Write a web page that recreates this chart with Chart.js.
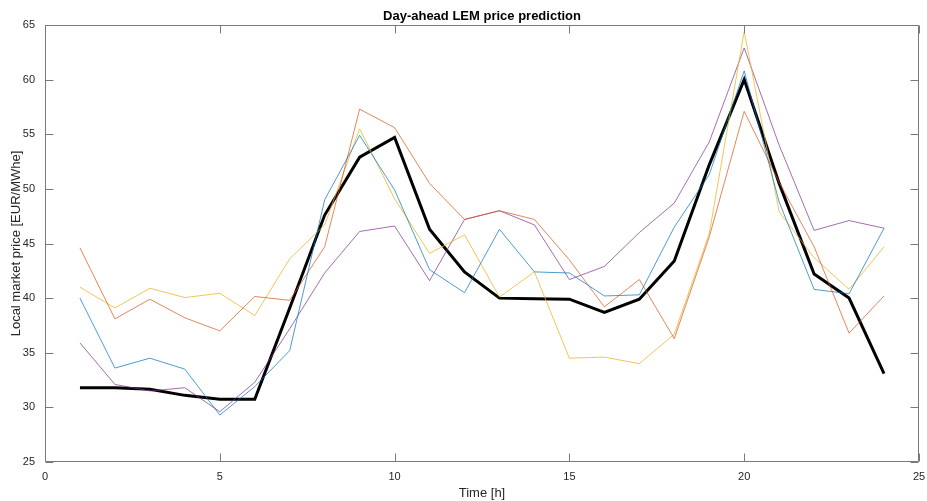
<!DOCTYPE html>
<html>
<head>
<meta charset="utf-8">
<script src="https://cdn.jsdelivr.net/npm/chart.js@4/dist/chart.umd.min.js"></script>
<style>
  html, body { margin: 0; padding: 0; background: #ffffff; }
  #wrap { width: 927px; height: 501px; }
</style>
</head>
<body>
<div id="wrap"><canvas id="c" width="927" height="501"></canvas></div>
<script>
// Hours of the day-ahead horizon
const hours = [1,2,3,4,5,6,7,8,9,10,11,12,13,14,15,16,17,18,19,20,21,22,23,24];

// Individual price scenarios [EUR/MWhe]
const scenarioBlue   = [40.0, 33.6, 34.5, 33.5, 29.3, 31.9, 35.2, 49.0, 54.9, 49.9, 42.6, 40.5, 46.3, 42.4, 42.3, 40.2, 40.3, 46.5, 51.3, 60.8, 48.8, 40.8, 40.4, 46.4];
const scenarioOrange = [44.6, 38.1, 39.9, 38.2, 37.0, 40.15, 39.8, 44.7, 57.3, 55.6, 50.5, 47.2, 48.0, 47.2, 43.5, 39.2, 41.7, 36.3, 45.6, 57.1, 50.6, 44.7, 36.8, 40.2];
const scenarioYellow = [41.0, 39.1, 40.9, 40.05, 40.45, 38.4, 43.6, 46.7, 55.5, 49.1, 44.1, 45.8, 40.1, 42.4, 34.5, 34.6, 34.0, 36.7, 45.9, 64.4, 47.9, 43.7, 40.8, 44.7];
const scenarioPurple = [35.9, 32.1, 31.5, 31.8, 29.6, 32.3, 37.2, 42.3, 46.1, 46.6, 41.6, 47.2, 48.0, 46.7, 41.7, 42.9, 46.0, 48.7, 54.3, 62.9, 54.0, 46.2, 47.1, 46.4];

// Resulting prediction
const prediction     = [31.8, 31.8, 31.65, 31.1, 30.75, 30.75, 39.1, 47.6, 52.9, 54.7, 46.3, 42.4, 40.0, 39.95, 39.9, 38.7, 39.9, 43.4, 52.2, 60.0, 50.5, 42.2, 40.0, 33.1];

// Axis ticks
const xTicks = [0, 5, 10, 15, 20, 25];
const yTicks = [25, 30, 35, 40, 45, 50, 55, 60, 65];

const chartTitle = 'Day-ahead LEM price prediction';

const toPoints = arr => arr.map((v, i) => ({ x: hours[i], y: v }));

const AXIS_COLOR = '#7a7a7a';
const TEXT_COLOR = '#262626';
const FONT = '"Liberation Sans", Arial, Helvetica, sans-serif';

// Draws the surrounding box, inward-pointing ticks on all four sides,
// and the title centred over the plot area
const boxAxes = {
  id: 'boxAxes',
  afterDatasetsDraw(chart) {
    const { ctx, chartArea: a, scales } = chart;
    const L = Math.round(a.left) + 0.5, R = Math.round(a.right) - 0.5;
    const T = Math.round(a.top) + 0.5, B = Math.round(a.bottom) - 0.5;
    const len = 8;
    ctx.save();
    ctx.strokeStyle = AXIS_COLOR;
    ctx.lineWidth = 1;
    ctx.beginPath();
    ctx.rect(L, T, R - L, B - T);
    xTicks.forEach(t => {
      const px = Math.round(scales.x.getPixelForValue(t)) + 0.5;
      ctx.moveTo(px, B); ctx.lineTo(px, B - len);
      ctx.moveTo(px, T); ctx.lineTo(px, T + len);
    });
    yTicks.forEach(t => {
      const py = Math.round(scales.y.getPixelForValue(t)) + 0.5;
      ctx.moveTo(L, py); ctx.lineTo(L + len, py);
      ctx.moveTo(R, py); ctx.lineTo(R - len, py);
    });
    ctx.stroke();

    ctx.fillStyle = '#000000';
    ctx.font = 'bold 13px ' + FONT;
    ctx.textAlign = 'center';
    ctx.textBaseline = 'middle';
    ctx.fillText(chartTitle, (a.left + a.right) / 2, 16);
    ctx.restore();
  }
};

const thin = (label, color, data) => ({
  label, data: toPoints(data),
  borderColor: color, backgroundColor: color,
  borderWidth: 1, pointRadius: 0, tension: 0, fill: false
});

new Chart(document.getElementById('c'), {
  type: 'line',
  data: {
    datasets: [
      thin('Scenario 1', 'rgba(0,114,189,0.7)', scenarioBlue),
      thin('Scenario 2', 'rgba(217,83,25,0.7)', scenarioOrange),
      thin('Scenario 3', 'rgba(237,177,32,0.75)', scenarioYellow),
      thin('Scenario 4', 'rgba(126,47,142,0.7)', scenarioPurple),
      {
        label: 'Prediction', data: toPoints(prediction),
        borderColor: '#000000', backgroundColor: '#000000',
        borderWidth: 3, pointRadius: 0, tension: 0, fill: false,
        borderJoinStyle: 'miter'
      }
    ]
  },
  options: {
    responsive: false,
    animation: false,
    events: [],
    layout: { padding: { left: 0, right: 8, top: 25, bottom: 0 } },
    plugins: {
      legend: { display: false },
      tooltip: { enabled: false },
      title: { display: false }
    },
    scales: {
      x: {
        type: 'linear', min: 0, max: 25,
        afterBuildTicks: s => { s.ticks = xTicks.map(v => ({ value: v })); },
        afterFit: s => { s.height = 39; s.paddingLeft = 0; s.paddingRight = 0; },
        grid: { display: false, drawTicks: false },
        border: { display: false },
        ticks: { color: TEXT_COLOR, font: { family: FONT, size: 11 }, padding: 8, maxRotation: 0 },
        title: {
          display: true, text: 'Time [h]', color: TEXT_COLOR,
          font: { family: FONT, size: 13 }, padding: { top: 0, bottom: 0 }
        }
      },
      y: {
        type: 'linear', min: 25, max: 65,
        afterBuildTicks: s => { s.ticks = yTicks.map(v => ({ value: v })); },
        afterFit: s => { s.width = 45; s.paddingTop = 0; s.paddingBottom = 0; },
        grid: { display: false, drawTicks: false },
        border: { display: false },
        ticks: { color: TEXT_COLOR, font: { family: FONT, size: 11 }, padding: 10 },
        title: {
          display: true, text: 'Local market price [EUR/MWhe]', color: TEXT_COLOR,
          font: { family: FONT, size: 13 }, padding: { top: 9, bottom: 0 }
        }
      }
    }
  },
  plugins: [boxAxes]
});
</script>
</body>
</html>
